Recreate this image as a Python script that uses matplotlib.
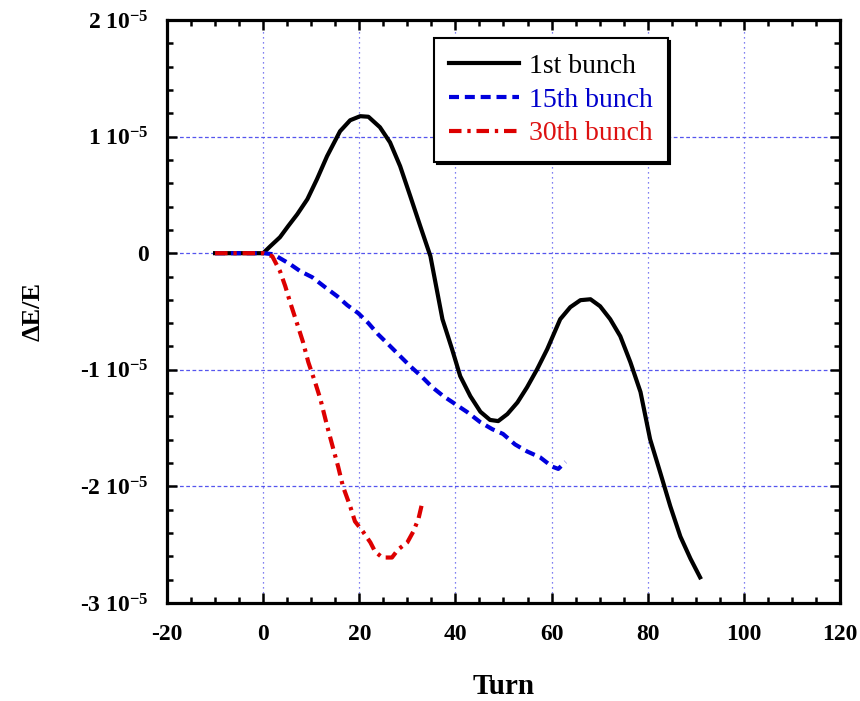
import matplotlib
matplotlib.use("Agg")
import matplotlib.pyplot as plt
from matplotlib.ticker import MultipleLocator, FuncFormatter

plt.rcParams['font.family'] = ['Liberation Serif', 'DejaVu Serif']
plt.rcParams['mathtext.fontset'] = 'custom'
plt.rcParams['mathtext.rm'] = 'Liberation Serif:bold'
plt.rcParams['mathtext.it'] = 'Liberation Serif:bold'
plt.rcParams['mathtext.bf'] = 'Liberation Serif:bold'

# data (y in units of 1e-6)
turn_1st = [-10, 0, 1.5, 3.5, 5.2, 7.1, 9.2, 11.2, 13.3, 16.0, 18.1, 20.2, 21.9,
            24.3, 26.4, 28.5, 30.6, 32.7, 34.8, 37.3, 39.3, 41.0, 43.1, 45.2,
            47.2, 48.9, 50.8, 52.9, 54.9, 57.0, 59.1, 61.8, 63.9, 66.0, 68.1,
            70.1, 72.2, 74.3, 76.4, 78.5, 80.5, 82.6, 84.7, 86.8, 88.9, 90.9]
de_1st = [0, 0, 0.6, 1.37, 2.32, 3.34, 4.63, 6.35, 8.32, 10.46, 11.4, 11.75, 11.7,
          10.8, 9.5, 7.46, 4.9, 2.3, -0.26, -5.66, -8.23, -10.55, -12.26, -13.6,
          -14.3, -14.4, -13.8, -12.8, -11.5, -9.95, -8.23, -5.66, -4.63, -4.03,
          -3.95, -4.55, -5.66, -7.12, -9.35, -11.9, -15.95, -18.8, -21.7, -24.3,
          -26.2, -27.8]

turn_15th = [-10, 0, 2.1, 5.6, 7.7, 10.2, 12.9, 15.4, 17.5, 19.8, 21.9, 23.9, 26.0,
             28.5, 30.6, 33.1, 35.2, 37.5, 40.0, 42.5, 45.2, 47.7, 49.9, 52.4,
             54.9, 57.6, 60.1, 61.4, 62.9]
de_15th = [0, 0, -0.09, -0.94, -1.54, -2.06, -2.92, -3.69, -4.46, -5.15, -6.0,
           -6.95, -7.8, -8.83, -9.69, -10.63, -11.5, -12.26, -12.95, -13.64, -14.5,
           -15.1, -15.5, -16.4, -17.0, -17.5, -18.3, -18.5, -17.9]

turn_30th = [-10, 0, 1.9, 3.5, 4.6, 5.6, 7.1, 8.3, 9.4, 10.8, 11.9, 13.3, 14.6,
             15.6, 16.6, 18.1, 19.1, 20.8, 22.3, 23.3, 24.8, 26.8, 28.1, 30.0,
             31.2, 32.3, 33.1]
de_30th = [0, 0, -0.26, -1.54, -2.83, -4.2, -6.09, -7.63, -9.35, -11.06, -12.5,
           -14.8, -16.8, -18.3, -20.0, -21.7, -23.0, -23.9, -24.8, -25.6, -26.1,
           -26.1, -25.4, -24.8, -23.9, -22.8, -21.4]

labels = ["1st bunch", "15th bunch", "30th bunch"]

scale = 1e-6
fig = plt.figure(figsize=(8.6, 7.01), dpi=100)
ax = fig.add_axes([0.1942, 0.1398, 0.7825, 0.8317])

l1, = ax.plot(turn_1st, [v * scale for v in de_1st], color='black', lw=3,
              label=labels[0])
l2, = ax.plot(turn_15th, [v * scale for v in de_15th], color='#0000DD', lw=3,
              linestyle=(0, (2.4, 1.4)), label=labels[1])
l3, = ax.plot(turn_30th, [v * scale for v in de_30th], color='#DD0000', lw=3,
              linestyle=(0, (3.0, 1.4, 0.8, 1.4)), label=labels[2])

ax.set_xlim(-20, 120)
ax.set_ylim(-3e-5, 2e-5)
ax.xaxis.set_major_locator(MultipleLocator(20))
ax.xaxis.set_minor_locator(MultipleLocator(5))
ax.yaxis.set_major_locator(MultipleLocator(1e-5))
ax.yaxis.set_minor_locator(MultipleLocator(0.2e-5))


def ylab(v, pos):
    n = int(round(v / 1e-5))
    if n == 0:
        return '0'
    return f'{n} 10$^{{-5}}$'


ax.yaxis.set_major_formatter(FuncFormatter(ylab))
ax.xaxis.set_major_formatter(FuncFormatter(lambda v, p: f'{int(round(v))}'))

for x in [0, 20, 40, 60, 80, 100]:
    ax.axvline(x, color='#5555EE', lw=0.9, linestyle=(0, (1, 3)), zorder=0)
for y in [-2e-5, -1e-5, 0, 1e-5]:
    ax.axhline(y, color='#5555EE', lw=0.9, linestyle=(0, (3, 2)), zorder=0)

ax.tick_params(which='both', direction='in', top=True, right=True, width=1.8)
ax.tick_params(which='major', length=7)
ax.tick_params(which='minor', length=4)
ax.tick_params(axis='x', pad=15, labelsize=17)
ax.tick_params(axis='y', pad=13, labelsize=17)
for lab in ax.get_xticklabels() + ax.get_yticklabels():
    lab.set_fontweight('bold')
for sp in ax.spines.values():
    sp.set_linewidth(2.3)

ax.set_xlabel('Turn', fontsize=21, fontweight='bold', labelpad=20)
ax.set_ylabel('ΔE/E', fontsize=19, fontweight='bold', labelpad=26)

leg = ax.legend(loc='upper left', bbox_to_anchor=(0.397, 0.969), borderaxespad=0,
                fancybox=False, edgecolor='black', framealpha=1,
                shadow={'color': 'black', 'alpha': 1},
                prop={'size': 20}, handlelength=2.5, handletextpad=0.35,
                labelspacing=0.3, borderpad=0.55)
leg.get_frame().set_linewidth(1.5)
for txt, col in zip(leg.get_texts(), ['black', '#0000CC', '#DD1111']):
    txt.set_color(col)

fig.savefig('out.png', dpi=100)
